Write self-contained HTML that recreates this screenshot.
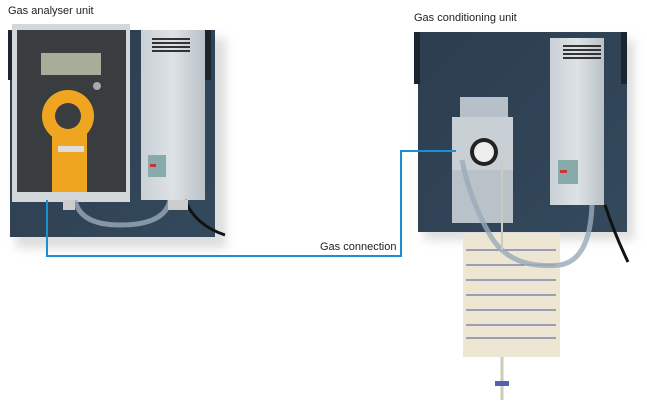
<!DOCTYPE html>
<html><head><style>
html,body{margin:0;padding:0;background:#fff;}
svg{display:block;}
text{font-family:"Liberation Sans",Arial,sans-serif;font-size:11px;fill:#222;}
</style></head><body>
<svg width="647" height="409" viewBox="0 0 647 409" xmlns="http://www.w3.org/2000/svg">
<defs>
<linearGradient id="bp" x1="0" y1="0" x2="1" y2="1"><stop offset="0" stop-color="#2c3d4f"/><stop offset="1" stop-color="#34495c"/></linearGradient>
<linearGradient id="gb" x1="0" y1="0" x2="1" y2="0"><stop offset="0" stop-color="#c9d1d6"/><stop offset="0.5" stop-color="#dde2e5"/><stop offset="1" stop-color="#b9c2c8"/></linearGradient>
<filter id="sh" x="-10%" y="-10%" width="130%" height="130%"><feGaussianBlur stdDeviation="5"/></filter>
</defs>
<text x="8" y="14">Gas analyser unit</text>
<text x="414" y="21">Gas conditioning unit</text>
<text x="320" y="250">Gas connection</text>

<!-- left unit -->
<rect x="16" y="38" width="210" height="210" fill="#bbb" opacity="0.5" filter="url(#sh)"/>
<rect x="10" y="30" width="205" height="207" fill="url(#bp)"/>
<rect x="8" y="30" width="6" height="50" fill="#1b2530"/>
<rect x="205" y="30" width="6" height="50" fill="#1b2530"/>
<rect x="141" y="30" width="64" height="170" fill="url(#gb)"/>
<g fill="#333"><rect x="152" y="38" width="38" height="2"/><rect x="152" y="42" width="38" height="2"/><rect x="152" y="46" width="38" height="2"/><rect x="152" y="50" width="38" height="2"/></g>
<rect x="148" y="155" width="18" height="22" fill="#8aa"/><rect x="150" y="164" width="6" height="3" fill="#c33"/>
<rect x="12" y="24" width="118" height="178" fill="#d3d7d9"/>
<rect x="17" y="30" width="109" height="162" fill="#3a3d3f"/>
<rect x="41" y="53" width="60" height="22" fill="#a6ad98"/>
<circle cx="97" cy="86" r="4" fill="#aaa"/>
<rect x="52" y="128" width="35" height="64" fill="#f0a520"/>
<circle cx="68" cy="116" r="26" fill="#f0a520"/>
<circle cx="68" cy="116" r="13" fill="#3a3d3f"/>
<rect x="58" y="146" width="26" height="6" fill="#ddd"/>
<path d="M75 200 Q80 225 120 225 Q165 225 170 200" fill="none" stroke="#9ab" stroke-width="5" opacity="0.8"/>
<path d="M185 200 Q195 225 225 235" fill="none" stroke="#111" stroke-width="3"/>
<rect x="63" y="200" width="12" height="10" fill="#ccc"/><rect x="168" y="200" width="20" height="10" fill="#ccc"/>

<!-- right unit -->
<rect x="424" y="40" width="210" height="200" fill="#bbb" opacity="0.5" filter="url(#sh)"/>
<rect x="418" y="32" width="209" height="200" fill="url(#bp)"/>
<rect x="414" y="32" width="6" height="52" fill="#1b2530"/>
<rect x="621" y="32" width="6" height="52" fill="#1b2530"/>
<rect x="550" y="38" width="54" height="167" fill="url(#gb)"/>
<g fill="#333"><rect x="563" y="45" width="38" height="2"/><rect x="563" y="49" width="38" height="2"/><rect x="563" y="53" width="38" height="2"/><rect x="563" y="57" width="38" height="2"/></g>
<rect x="558" y="160" width="20" height="24" fill="#8aa"/><rect x="560" y="170" width="7" height="3" fill="#c33"/>
<path d="M605 205 Q615 235 628 262" fill="none" stroke="#111" stroke-width="3"/>
<rect x="452" y="117" width="61" height="106" fill="#c8d0d6"/>
<rect x="460" y="97" width="48" height="20" fill="#b7c0c8"/>
<circle cx="484" cy="152" r="14" fill="#222"/><circle cx="484" cy="152" r="10" fill="#eee"/>
<rect x="452" y="170" width="61" height="53" fill="#b9c2c9"/>
<rect x="463" y="233" width="97" height="124" fill="#ece6d2"/>
<g stroke="#4a55a0" stroke-width="1"><line x1="466" y1="250" x2="556" y2="250"/><line x1="466" y1="265" x2="556" y2="265"/><line x1="466" y1="280" x2="556" y2="280"/><line x1="466" y1="295" x2="556" y2="295"/><line x1="466" y1="310" x2="556" y2="310"/><line x1="466" y1="325" x2="556" y2="325"/><line x1="466" y1="338" x2="556" y2="338"/></g>
<line x1="502" y1="357" x2="502" y2="400" stroke="#ccb" stroke-width="3"/>
<rect x="495" y="381" width="14" height="5" fill="#5560b0"/>
<path d="M462 160 Q470 200 490 235 Q510 270 560 265 Q590 260 592 205" fill="none" stroke="#9ab" stroke-width="5" opacity="0.8"/>
<line x1="502" y1="160" x2="502" y2="250" stroke="#ccb" stroke-width="2"/>

<!-- gas connection line -->
<polyline points="47,200 47,256 401,256 401,151 456,151" fill="none" stroke="#1b8fd0" stroke-width="2"/>
</svg>
</body></html>
